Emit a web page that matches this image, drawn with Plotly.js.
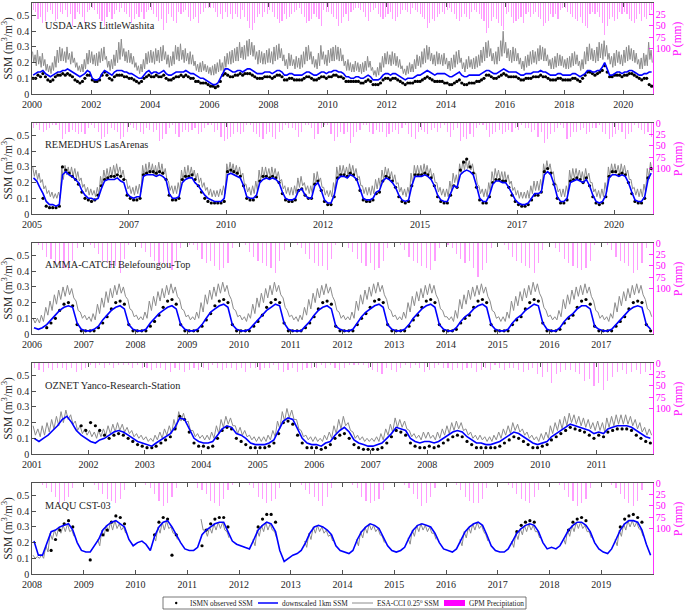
<!DOCTYPE html>
<html><head><meta charset="utf-8">
<script src="https://cdn.plot.ly/plotly-3.0.1.min.js"></script>
<style>html,body{margin:0;padding:0;background:#fff}#chart{width:685px;height:610px}</style>
</head><body><div id="chart"></div>
<script>
// ---------------- DATA ----------------
const panelNames = ['USDA-ARS LittleWashita','REMEDHUS LasArenas','AMMA-CATCH Belefoungou-Top','OZNET Yanco-Research-Station','MAQU CST-03'];
const startYears = [2000, 2005, 2006, 2001, 2008];
const endDates = ['2021-01-01','2021-01-01','2018-01-01','2012-01-01','2020-01-01'];
const tickDates1 = ['2000-01-01','2002-01-01','2004-01-01','2006-01-01','2008-01-01','2010-01-01','2012-01-01','2014-01-01','2016-01-01','2018-01-01','2020-01-01'];
const tickText1 = ['2000','2002','2004','2006','2008','2010','2012','2014','2016','2018','2020'];
const tickDates2 = ['2005-01-01','2007-07-02','2010-01-01','2012-07-02','2015-01-01','2017-07-02','2020-01-01'];
const tickText2 = ['2005','2007','2010','2012','2015','2017','2020'];
const tickDates3 = ['2006-01-01','2007-01-01','2008-01-01','2009-01-01','2010-01-01','2011-01-01','2012-01-01','2013-01-01','2014-01-01','2015-01-01','2016-01-01','2017-01-01'];
const tickText3 = ['2006','2007','2008','2009','2010','2011','2012','2013','2014','2015','2016','2017'];
const tickDates4 = ['2001-01-01','2002-01-01','2003-01-01','2004-01-01','2005-01-01','2006-01-01','2007-01-01','2008-01-01','2009-01-01','2010-01-01','2011-01-01'];
const tickText4 = ['2001','2002','2003','2004','2005','2006','2007','2008','2009','2010','2011'];
const tickDates5 = ['2008-01-01','2009-01-01','2010-01-01','2011-01-01','2012-01-01','2013-01-01','2014-01-01','2015-01-01','2016-01-01','2017-01-01','2018-01-01','2019-01-01'];
const tickText5 = ['2008','2009','2010','2011','2012','2013','2014','2015','2016','2017','2018','2019'];
const ssmTicks = [0,0.1,0.2,0.3,0.4,0.5];
const pTicks = [0,25,50,75,100];

// Panel 1: USDA-ARS LittleWashita (ESA-CCI half-monthly, others monthly)
const esa1 = [
.27,.20,.25,.18,.28,.19,.24,.17,.26,.18,.22,.15,.19,.14,.18,.13,.20,.15,.24,.17,.28,.20,.30,.21,
.29,.21,.27,.20,.30,.22,.26,.19,.27,.20,.23,.17,.20,.15,.18,.14,.19,.14,.22,.16,.26,.19,.28,.20,
.27,.19,.25,.18,.26,.18,.27,.20,.29,.21,.30,.22,.24,.17,.21,.15,.22,.16,.25,.18,.28,.20,.33,.22,
.35,.24,.29,.21,.27,.20,.28,.20,.26,.19,.24,.17,.20,.15,.18,.13,.19,.14,.22,.16,.26,.19,.27,.20,
.28,.20,.27,.19,.29,.21,.28,.20,.30,.21,.31,.22,.27,.19,.25,.17,.24,.18,.27,.19,.31,.22,.30,.21,
.32,.22,.28,.20,.29,.21,.26,.19,.27,.19,.25,.18,.21,.15,.19,.14,.20,.14,.21,.15,.19,.14,.18,.13,
.17,.12,.18,.12,.19,.13,.20,.14,.22,.15,.20,.14,.24,.17,.26,.19,.27,.19,.28,.20,.29,.21,.30,.21,
.33,.23,.30,.22,.31,.22,.34,.24,.35,.25,.33,.24,.31,.22,.27,.19,.28,.20,.27,.19,.26,.19,.28,.20,
.29,.20,.27,.19,.30,.21,.31,.22,.32,.23,.29,.21,.25,.18,.22,.16,.26,.18,.25,.18,.22,.16,.24,.17,
.23,.16,.25,.17,.27,.19,.30,.21,.31,.22,.27,.19,.24,.17,.22,.16,.26,.18,.31,.22,.27,.19,.25,.18,
.28,.20,.29,.21,.30,.21,.31,.22,.30,.21,.29,.21,.25,.18,.21,.15,.22,.15,.20,.14,.19,.14,.21,.15,
.20,.14,.19,.13,.20,.14,.21,.15,.24,.17,.21,.15,.17,.12,.15,.11,.17,.12,.20,.14,.24,.17,.26,.19,
.27,.19,.25,.18,.27,.19,.26,.18,.24,.17,.22,.16,.18,.13,.16,.12,.18,.13,.20,.14,.19,.14,.22,.16,
.25,.18,.24,.17,.27,.19,.29,.20,.31,.22,.30,.21,.26,.19,.25,.18,.27,.19,.26,.19,.25,.18,.26,.19,
.23,.16,.21,.15,.23,.16,.25,.17,.27,.19,.28,.20,.23,.16,.20,.14,.22,.16,.24,.17,.22,.16,.23,.16,
.24,.17,.25,.18,.28,.20,.30,.21,.33,.23,.34,.24,.29,.21,.26,.19,.27,.19,.30,.21,.34,.24,.40,.26,
.33,.23,.29,.21,.28,.20,.30,.21,.29,.21,.26,.19,.23,.16,.21,.15,.24,.17,.25,.18,.27,.19,.28,.20,
.27,.19,.29,.21,.31,.22,.30,.21,.29,.21,.25,.18,.22,.16,.23,.16,.24,.17,.26,.18,.25,.18,.24,.17,
.22,.16,.23,.16,.24,.17,.26,.18,.27,.19,.25,.18,.21,.15,.22,.16,.27,.19,.30,.21,.32,.22,.29,.21,
.28,.20,.30,.21,.33,.23,.32,.22,.34,.24,.31,.22,.26,.19,.24,.17,.26,.18,.28,.20,.27,.19,.25,.18,
.28,.20,.30,.21,.31,.22,.29,.21,.28,.20,.26,.19,.22,.16,.23,.16,.26,.18,.25,.18,.33,.22,.28,.20];
const down1 = [
.12,.13,.14,.14,.15,.13,.12,.11,.12,.13,.14,.14,
.15,.15,.16,.15,.14,.13,.12,.11,.12,.13,.15,.14,
.10,.09,.09,.10,.13,.15,.14,.13,.12,.14,.15,.15,
.15,.14,.14,.13,.13,.12,.11,.10,.10,.12,.14,.15,
.13,.14,.14,.13,.14,.15,.13,.12,.12,.13,.14,.14,
.14,.14,.15,.14,.13,.13,.12,.11,.10,.10,.09,.08,
.07,.06,.06,.07,.10,.13,.16,.16,.15,.14,.14,.15,
.15,.14,.15,.16,.16,.15,.14,.13,.13,.13,.14,.14,
.14,.13,.14,.15,.15,.14,.12,.12,.13,.13,.12,.12,
.12,.12,.13,.14,.14,.13,.12,.12,.13,.14,.14,.13,
.14,.14,.15,.15,.14,.14,.13,.11,.11,.10,.10,.11,
.11,.10,.10,.11,.12,.11,.09,.09,.09,.10,.12,.13,
.13,.12,.13,.13,.12,.11,.10,.09,.10,.10,.10,.11,
.12,.12,.13,.14,.15,.14,.13,.12,.13,.13,.13,.13,
.12,.11,.11,.12,.13,.14,.12,.11,.11,.12,.12,.12,
.12,.12,.13,.14,.15,.15,.14,.13,.13,.14,.15,.16,
.15,.14,.14,.14,.14,.13,.12,.12,.13,.13,.13,.14,
.14,.14,.15,.14,.14,.13,.12,.12,.12,.13,.13,.12,
.12,.12,.12,.13,.13,.12,.11,.12,.13,.15,.15,.14,
.14,.15,.15,.17,.20,.16,.12,.12,.13,.14,.14,.13,
.14,.14,.15,.15,.14,.13,.12,.12,.13,.13,.14,.14];
const ismn1 = [
.10,.10,.12,.11,.13,.11,.09,.08,.09,.11,.12,.12,
.13,.12,.13,.12,.11,.09,.08,.07,.08,.10,.12,.12,
.09,.08,.08,.09,.12,.14,.12,.10,.09,.11,.12,.12,
.12,.11,.11,.10,.10,.09,.08,.07,.08,.10,.11,.12,
.11,.11,.12,.11,.11,.12,.10,.09,.09,.10,.11,.11,
.12,.11,.12,.11,.10,.10,.08,.08,.07,.07,.07,.06,
.05,.05,.04,.05,.08,.12,.13,.12,.11,.11,.12,.12,
.13,.12,.13,.13,.13,.12,.11,.10,.10,.10,.11,.11,
.11,.10,.11,.12,.12,.11,.09,.09,.10,.10,.09,.09,
.09,.09,.10,.11,.11,.10,.09,.09,.10,.11,.11,.10,
.11,.11,.12,.12,.11,.11,.10,.08,.08,.08,.08,.08,
.08,.07,.07,.08,.09,.08,.06,.06,.06,.07,.09,.10,
.10,.09,.10,.10,.09,.08,.07,.06,.07,.07,.07,.08,
.08,.08,.09,.10,.11,.10,.09,.08,.08,.08,.08,.07,
.07,.06,.06,.07,.08,.09,.07,.06,.06,.07,.07,.07,
.08,.08,.09,.10,.12,.12,.11,.10,.10,.11,.12,.13,
.12,.11,.11,.11,.11,.10,.09,.09,.10,.10,.10,.11,
.11,.11,.12,.11,.11,.10,.09,.09,.09,.10,.10,.09,
.09,.09,.09,.10,.10,.09,.08,.10,.12,.14,.14,.13,
.12,.13,.14,.15,.18,.14,.11,.11,.12,.12,.12,.11,
.12,.12,.13,.13,.12,.11,.10,.09,.10,.10,.06,.05];
const rain1 = [
15,20,35,30,45,40,20,15,25,40,35,20, 25,15,30,25,50,35,20,25,30,45,20,15,
10,15,25,35,40,50,30,20,35,25,15,20, 10,20,25,30,45,35,25,30,20,35,20,15,
15,25,30,40,35,60,45,25,30,40,45,20, 25,20,15,30,40,35,30,45,25,20,10,10,
10,10,20,30,25,35,20,30,25,35,25,30, 35,15,30,40,55,60,45,30,25,30,20,25,
15,20,30,35,45,40,25,35,30,25,20,15, 10,25,30,45,40,35,25,30,35,50,15,20,
20,25,30,35,50,45,30,25,40,20,15,10, 10,15,20,30,40,20,15,10,25,30,35,30,
25,20,35,40,30,25,15,15,20,25,10,15, 20,25,30,35,55,45,35,40,30,25,20,25,
15,10,20,25,35,40,30,25,30,35,20,15, 20,25,35,40,65,55,40,30,35,45,50,60,
25,20,30,45,40,35,30,45,25,20,30,25, 20,30,35,50,45,40,25,30,25,35,15,10,
10,20,25,30,35,40,30,45,50,55,25,20, 25,20,30,45,70,50,35,30,40,35,20,25,
20,25,35,40,45,35,25,40,30,35,25,15];

// Panel 2: REMEDHUS LasArenas
const esa2 = [
.30,.24,.28,.22,.26,.20,.22,.16,.18,.13,.15,.11,.14,.10,.13,.10,.14,.10,.30,.22,.31,.25,.30,.24,
.30,.24,.29,.23,.27,.21,.23,.17,.19,.14,.17,.12,.16,.12,.15,.11,.17,.12,.24,.18,.28,.22,.29,.23,
.30,.24,.31,.25,.32,.26,.30,.24,.28,.22,.22,.16,.18,.13,.17,.12,.18,.13,.19,.14,.31,.24,.32,.25,
.33,.26,.32,.25,.31,.25,.33,.26,.32,.25,.29,.22,.21,.15,.18,.13,.18,.13,.20,.14,.28,.21,.30,.23,
.31,.24,.30,.24,.28,.22,.26,.20,.23,.17,.20,.15,.17,.12,.16,.11,.15,.11,.15,.11,.16,.12,.18,.13,
.32,.26,.33,.27,.32,.26,.31,.25,.30,.24,.26,.19,.19,.14,.17,.12,.18,.13,.21,.15,.28,.21,.30,.23,
.30,.24,.29,.23,.30,.24,.29,.23,.27,.21,.22,.16,.18,.13,.17,.12,.17,.12,.18,.13,.23,.17,.24,.18,
.20,.15,.18,.13,.18,.13,.26,.19,.27,.21,.23,.17,.17,.12,.15,.11,.15,.11,.20,.15,.30,.23,.31,.25,
.31,.25,.30,.24,.32,.26,.31,.25,.29,.23,.24,.18,.18,.13,.17,.12,.17,.12,.18,.13,.22,.16,.23,.17,
.28,.22,.30,.24,.29,.23,.27,.21,.25,.19,.20,.14,.17,.12,.16,.11,.17,.12,.26,.19,.31,.25,.31,.25,
.31,.25,.32,.26,.31,.25,.29,.23,.26,.20,.20,.14,.17,.12,.16,.11,.16,.11,.21,.15,.26,.20,.25,.19,
.32,.26,.34,.28,.35,.29,.34,.28,.32,.26,.26,.19,.18,.13,.16,.11,.16,.11,.20,.14,.27,.21,.29,.23,
.28,.22,.27,.21,.27,.21,.25,.19,.21,.15,.17,.12,.15,.10,.14,.10,.14,.10,.15,.10,.18,.13,.21,.15,
.21,.15,.22,.16,.32,.26,.34,.28,.32,.26,.27,.20,.19,.14,.16,.11,.16,.11,.18,.13,.28,.21,.29,.23,
.29,.23,.28,.22,.27,.21,.29,.23,.26,.20,.20,.14,.16,.11,.15,.10,.16,.11,.20,.14,.30,.24,.32,.26,
.32,.26,.31,.25,.32,.26,.31,.25,.28,.22,.22,.16,.17,.12,.16,.11,.16,.11,.19,.14,.29,.23,.33,.27];
const down2 = [
.23,.21,.17,.13,.08,.06,.06,.05,.06,.25,.27,.25,
.24,.22,.20,.15,.12,.10,.10,.09,.10,.16,.21,.22,
.22,.22,.23,.21,.20,.13,.11,.10,.11,.11,.24,.25,
.25,.25,.24,.25,.24,.22,.13,.10,.10,.11,.20,.22,
.23,.23,.20,.18,.15,.12,.10,.09,.08,.08,.08,.10,
.25,.26,.25,.24,.23,.18,.11,.10,.10,.12,.20,.22,
.23,.22,.23,.22,.20,.14,.10,.09,.09,.10,.15,.16,
.12,.10,.10,.18,.20,.15,.09,.07,.07,.12,.22,.24,
.24,.23,.25,.24,.22,.16,.10,.09,.09,.10,.14,.15,
.21,.23,.22,.20,.17,.12,.09,.08,.09,.18,.24,.24,
.24,.25,.24,.22,.18,.12,.09,.08,.08,.13,.18,.17,
.25,.27,.28,.27,.25,.18,.10,.08,.08,.12,.19,.21,
.21,.20,.20,.17,.13,.09,.07,.06,.06,.07,.10,.13,
.13,.14,.25,.27,.25,.19,.11,.08,.08,.10,.20,.21,
.22,.21,.20,.22,.18,.12,.08,.07,.08,.12,.23,.25,
.25,.24,.25,.24,.20,.14,.09,.08,.08,.11,.22,.26];
const ismn2 = [
null,null,null,.10,.05,.04,.04,.04,.05,.30,.28,.26,
.24,.22,.19,.14,.10,.09,.08,.09,.12,.18,.22,.23,
.24,.24,.25,.24,.22,.12,.10,.09,.09,.10,.25,.26,
.27,.27,.26,.27,.26,.22,.12,.09,.09,.10,.22,.24,
.24,.25,.22,.18,.14,.10,.08,.07,.07,.07,.07,.08,
.27,.28,.27,.26,.24,.18,.10,.09,.09,.11,.21,.24,
.24,.23,.24,.23,.20,.13,.09,.08,.08,.09,.15,.16,
.12,.10,.10,.19,.21,.15,.08,.06,.06,.11,.23,.25,
.25,.24,.26,.25,.22,.15,.09,.08,.08,.09,.13,.14,
.21,.24,.23,.21,.17,.11,.08,.07,.08,.18,.25,.25,
.25,.26,.25,.23,.18,.11,.08,.07,.07,.12,.18,.17,
.28,.33,.35,.30,.26,.17,.09,.07,.07,.11,.20,.22,
.22,.21,.21,.17,.12,.08,.06,.05,.05,.06,.09,.12,
.12,.14,.27,.29,.26,.19,.10,.07,.07,.09,.21,.22,
.23,.22,.20,.23,.18,.11,.07,.06,.07,.11,.24,.27,
.27,.25,.26,.25,.20,.13,.08,.07,.07,.10,.23,.29];
const rain2 = [
10,5,15,20,15,10,5,5,15,35,25,20, 15,20,25,20,25,10,5,10,20,35,30,25,
10,15,20,35,30,20,5,10,15,20,25,10, 15,20,15,40,35,25,10,5,25,30,20,15,
20,15,10,25,20,10,5,5,20,15,30,40, 35,30,25,20,25,20,5,5,20,25,30,35,
25,20,30,35,20,15,5,10,10,15,30,20, 5,5,10,35,25,10,5,5,25,40,30,20,
25,20,45,30,20,15,5,5,20,25,15,20, 20,30,25,20,15,25,10,5,25,30,35,20,
15,20,25,15,10,20,10,5,20,30,15,10, 40,30,35,25,30,10,5,5,15,30,25,20,
15,25,20,15,20,10,15,5,10,10,20,15, 30,20,45,35,25,20,10,5,10,35,30,20,
20,15,10,25,20,10,10,5,20,25,35,30, 25,15,20,35,25,20,5,10,15,25,20,30];

// Panel 3: AMMA-CATCH Belefoungou-Top
const esa3 = [
.10,.07,.10,.07,.12,.08,.17,.12,.21,.15,.25,.19,.28,.22,.30,.24,.31,.25,.29,.23,.21,.15,.14,.10,
.12,.09,.11,.08,.13,.09,.19,.13,.23,.17,.27,.20,.29,.23,.31,.25,.32,.26,.30,.24,.22,.16,.15,.11,
.12,.09,.11,.09,.14,.10,.21,.15,.24,.18,.27,.21,.29,.23,.31,.25,.32,.26,.30,.24,.22,.16,.15,.11,
.12,.09,.11,.09,.14,.10,.20,.14,.25,.19,.28,.22,.30,.24,.32,.26,.33,.27,.31,.25,.22,.16,.15,.11,
.12,.09,.11,.08,.13,.10,.19,.13,.23,.17,.26,.20,.29,.23,.31,.25,.33,.27,.31,.25,.23,.17,.15,.11,
.12,.09,.11,.08,.12,.09,.17,.12,.22,.16,.26,.20,.29,.23,.31,.25,.32,.26,.30,.24,.21,.15,.14,.10,
.12,.09,.11,.09,.14,.10,.21,.15,.25,.19,.28,.22,.30,.24,.32,.26,.33,.27,.31,.25,.22,.16,.15,.11,
.12,.09,.11,.09,.14,.10,.20,.14,.24,.18,.27,.21,.29,.23,.31,.25,.32,.26,.31,.25,.22,.16,.15,.11,
.11,.09,.11,.08,.15,.10,.22,.16,.25,.19,.28,.22,.30,.24,.31,.25,.32,.26,.30,.24,.21,.15,.14,.10,
.11,.08,.11,.08,.14,.10,.21,.15,.24,.18,.27,.21,.29,.23,.31,.25,.33,.27,.32,.26,.23,.17,.15,.11,
.12,.09,.11,.09,.15,.11,.22,.16,.25,.19,.28,.22,.30,.24,.31,.25,.32,.26,.30,.24,.21,.15,.14,.10,
.12,.09,.11,.08,.13,.10,.20,.14,.24,.18,.27,.21,.29,.23,.31,.25,.32,.26,.31,.25,.22,.16,.15,.11];
const down3 = [
.04,.03,.04,.06,.09,.12,.15,.17,.18,.17,.07,.03,
.02,.02,.03,.05,.09,.12,.15,.17,.18,.16,.06,.03,
.02,.02,.03,.07,.10,.13,.15,.17,.18,.16,.06,.03,
.02,.02,.03,.06,.10,.14,.16,.18,.19,.17,.06,.03,
.02,.02,.03,.06,.09,.12,.15,.17,.19,.18,.07,.03,
.02,.02,.02,.05,.08,.12,.15,.17,.18,.16,.05,.03,
.02,.02,.03,.07,.11,.14,.16,.18,.19,.17,.06,.03,
.02,.02,.03,.06,.10,.13,.16,.18,.19,.17,.06,.03,
.02,.02,.04,.08,.11,.13,.16,.18,.19,.17,.06,.03,
.02,.02,.03,.07,.10,.12,.15,.17,.19,.18,.07,.03,
.02,.02,.04,.08,.11,.13,.16,.18,.18,.16,.05,.03,
.02,.02,.03,.06,.09,.12,.15,.17,.18,.17,.06,.03];
const ismn3 = [
null,null,null,.04,.07,.10,.15,.19,.20,.18,.06,.02,
.02,.02,.02,.04,.07,.11,.16,.20,.21,.19,.06,.02,
.02,.02,.02,.05,.08,.12,.17,.21,.22,.19,.06,.02,
.02,.02,.02,.05,.09,.13,.18,.21,.22,.20,.06,.02,
.02,.02,.02,.05,.08,.12,.17,.20,.22,.20,.07,.02,
.02,.02,.02,.04,.07,.11,.16,.20,.21,.19,.05,.02,
.02,.02,.02,.06,.10,.13,.17,.21,.22,.20,.06,.02,
.02,.02,.02,.05,.09,.12,.17,.21,.22,.20,.06,.02,
.02,.02,.03,.07,.10,.12,.17,.21,.22,.20,.06,.02,
.02,.02,.02,.06,.09,.11,.16,.20,.22,.21,.07,.02,
.02,.02,.03,.07,.10,.12,.17,.21,.22,.19,.05,.02,
.02,.02,.02,.05,.08,.11,.16,.20,.21,.20,.06,.02];
const rain3 = [
0,5,15,30,35,45,50,55,60,40,10,0, 0,5,10,25,40,45,55,50,65,35,5,0,
0,10,20,30,40,50,45,55,60,40,10,0, 5,5,15,35,45,40,50,60,55,45,10,0,
0,5,20,30,40,45,50,55,65,40,15,0, 0,5,10,25,35,45,50,50,60,35,5,0,
0,10,20,35,45,50,45,60,55,40,10,0, 0,5,15,30,40,45,50,55,60,40,10,0,
5,10,25,35,45,40,55,75,60,45,10,0, 0,5,15,30,40,45,50,55,65,45,15,0,
0,10,20,35,45,50,55,60,55,40,5,0, 0,5,15,30,40,45,50,65,60,45,10,0];

// Panel 4: OZNET Yanco-Research-Station
const esa4 = [
.18,.12,.16,.11,.18,.12,.20,.14,.22,.16,.24,.18,.27,.20,.28,.22,.25,.19,.21,.15,.18,.13,.16,.12,
.15,.11,.14,.10,.15,.11,.16,.12,.18,.13,.19,.14,.20,.15,.19,.14,.17,.13,.15,.11,.13,.10,.12,.09,
.11,.08,.10,.08,.12,.09,.14,.10,.16,.12,.18,.13,.22,.16,.27,.21,.26,.20,.21,.15,.15,.11,.13,.10,
.12,.09,.12,.09,.14,.10,.18,.13,.22,.17,.24,.19,.23,.18,.18,.13,.17,.12,.15,.11,.12,.09,.11,.08,
.11,.08,.11,.08,.12,.09,.15,.11,.21,.16,.27,.21,.29,.23,.28,.22,.22,.16,.15,.11,.12,.09,.11,.08,
.11,.08,.10,.08,.12,.09,.14,.10,.18,.13,.22,.16,.24,.18,.20,.15,.14,.10,.12,.09,.11,.08,.10,.08,
.10,.08,.11,.08,.13,.09,.16,.12,.19,.14,.23,.17,.22,.17,.21,.16,.15,.11,.13,.10,.12,.09,.14,.10,
.14,.10,.12,.09,.14,.10,.16,.12,.18,.13,.20,.15,.21,.16,.20,.15,.16,.12,.14,.10,.12,.09,.12,.09,
.11,.08,.11,.08,.12,.09,.14,.10,.16,.12,.18,.13,.20,.15,.19,.14,.16,.12,.14,.10,.12,.09,.11,.08,
.13,.09,.14,.10,.18,.13,.20,.15,.22,.16,.24,.18,.26,.20,.25,.19,.24,.18,.23,.17,.22,.16,.20,.15,
.21,.15,.20,.14,.23,.17,.24,.18,.25,.19,.25,.19,.25,.19,.24,.18,.22,.16,.20,.14,.17,.12,.16,.12];
const down4 = [
.10,.08,.10,.12,.15,.18,.22,.24,.20,.15,.12,.10,
.08,.07,.09,.10,.12,.14,.15,.14,.12,.10,.08,.07,
.06,.05,.07,.09,.11,.13,.17,.23,.22,.16,.10,.08,
.07,.07,.08,.12,.16,.18,.17,.13,.12,.10,.07,.06,
.06,.06,.07,.09,.15,.21,.23,.22,.16,.10,.07,.06,
.06,.05,.07,.08,.12,.15,.17,.14,.09,.07,.06,.05,
.05,.06,.07,.10,.13,.17,.16,.15,.10,.08,.07,.08,
.08,.07,.08,.10,.12,.14,.15,.14,.11,.09,.07,.07,
.06,.06,.07,.08,.10,.12,.14,.13,.11,.09,.07,.06,
.07,.08,.11,.13,.15,.17,.19,.18,.17,.16,.15,.13,
.14,.13,.16,.17,.18,.18,.18,.17,.15,.13,.11,.10];
const ismn4 = [
null,null,null,null,null,null,null,null,null,null,.18,.15,
.20,.18,.15,.12,.10,.12,.13,.12,.10,.08,.06,.05,
.04,.04,.05,.07,.09,.11,.16,.24,.22,.14,.07,.05,
.05,.04,.05,.10,.15,.17,.16,.10,.08,.06,.04,.04,
.04,.04,.05,.07,.13,.20,.21,.19,.12,.07,.04,.04,
.04,.03,.04,.06,.10,.12,.13,.10,.06,.04,.03,.03,
.03,.03,.04,.07,.11,.15,.14,.12,.07,.05,.04,.04,
.05,.04,.05,.07,.09,.11,.12,.11,.08,.06,.04,.04,
.04,.04,.04,.05,.07,.09,.11,.10,.08,.06,.04,.04,
.05,.06,.09,.11,.13,.15,.17,.16,.15,.14,.12,.10,
.12,.11,.14,.15,.16,.16,.16,.15,.12,.10,.08,.07];
const rain4 = [
10,15,20,10,15,10,10,15,10,20,15,10, 5,10,5,10,5,10,5,5,5,10,5,10,
10,15,10,10,15,20,10,15,20,15,10,15, 10,15,5,10,15,10,10,15,10,20,10,10,
15,10,10,5,15,20,15,10,20,15,10,10, 10,5,10,5,10,15,10,5,5,5,5,10,
15,20,25,10,15,20,10,5,10,5,10,20, 15,10,5,10,10,15,10,15,10,10,20,15,
10,15,5,10,15,10,10,15,20,15,10,25, 30,20,45,25,20,15,15,20,25,40,35,50,
45,60,40,30,20,15,25,20,15,25,20,15];

// Panel 5: MAQU CST-03
const esa5 = [
.12,.10,.11,.10,.12,.10,.18,.14,.26,.22,.28,.24,.30,.26,.31,.27,.32,.27,.28,.24,null,null,null,null,
null,null,null,null,null,null,.22,.18,.28,.24,.31,.27,.33,.28,.34,.29,.32,.28,.30,.26,null,null,null,null,
null,null,null,null,null,null,null,null,.25,.21,.30,.26,.33,.28,.34,.29,.30,.26,.26,.22,null,null,null,null,
null,null,null,null,null,null,.35,.28,.28,.24,.30,.26,.32,.28,.33,.29,.33,.28,.27,.23,null,null,null,null,
null,null,null,null,null,null,.22,.18,.28,.24,.31,.27,.33,.28,.32,.28,.27,.23,null,null,null,null,null,null,
null,null,null,null,null,null,.21,.17,.26,.22,.30,.26,.31,.27,.30,.26,.28,.24,.25,.21,null,null,null,null,
null,null,null,null,null,null,.22,.18,.27,.23,.30,.26,.32,.28,.31,.27,.29,.25,.24,.20,null,null,null,null,
null,null,null,null,null,null,.23,.19,.28,.24,.31,.27,.32,.28,.31,.27,.30,.26,.26,.22,null,null,null,null,
null,null,null,null,null,null,.22,.18,.27,.23,.30,.26,.32,.28,.33,.29,.31,.27,.25,.21,null,null,null,null,
null,null,null,null,null,null,.21,.17,.26,.22,.29,.25,.31,.27,.32,.28,.31,.27,.27,.23,null,null,null,null,
null,null,null,null,null,null,.23,.19,.28,.24,.31,.27,.33,.29,.33,.29,.31,.27,.27,.23,null,null,null,null,
null,null,null,null,null,null,.22,.18,.28,.24,.32,.28,.34,.30,.34,.30,.33,.29,.28,.24,null,null,null,null];
const down5 = [
.21,.12,.12,.20,.27,.28,.30,.31,.32,.28,.20,.15,
.14,.14,.18,.22,.28,.31,.33,.34,.32,.30,.22,.18,
.20,.21,.19,.15,.24,.30,.33,.34,.30,.25,.20,.16,
.15,.15,.17,.25,.28,.30,.32,.33,.33,.27,.21,.19,
.18,.17,.16,.22,.28,.31,.33,.32,.27,.15,.08,.10,
.12,.13,.15,.20,.26,.30,.31,.30,.28,.25,.18,.15,
.14,.13,.15,.22,.27,.30,.32,.31,.29,.24,.18,.15,
.14,.15,.17,.23,.28,.31,.32,.31,.30,.26,.20,.16,
.15,.14,.16,.22,.27,.30,.32,.33,.31,.25,.18,.15,
.14,.14,.16,.21,.26,.29,.31,.32,.31,.27,.20,.16,
.17,.16,.18,.23,.28,.31,.33,.33,.31,.27,.20,.16,
.14,.13,.16,.22,.28,.32,.34,.34,.33,.28,.19,.12];
const ismn5 = [
null,null,null,null,.15,.22,.28,.32,.34,.30,null,null,
null,.09,null,null,.25,.28,.33,.37,.36,.32,null,null,
null,null,null,null,.25,.33,.36,.35,.12,.25,null,null,
null,null,null,.18,.28,.32,.35,.36,.36,.30,null,null,
null,null,null,null,.30,.35,.38,.38,.33,null,null,null,
null,null,null,null,null,null,null,null,null,null,null,null,
null,null,null,null,null,null,null,null,null,null,null,null,
null,null,null,null,null,null,null,null,null,null,null,null,
null,null,null,null,null,null,null,null,null,null,null,null,
null,null,null,null,.27,.31,.33,.34,.33,null,null,null,
null,null,null,null,.28,.33,.35,.36,.34,null,null,null,
null,null,null,null,.30,.35,.37,.38,.36,.33,null,null];
const rain5 = [
0,0,5,10,20,30,45,40,30,10,0,0, 0,0,5,15,25,35,40,45,35,15,0,0,
0,0,5,10,25,40,50,45,30,10,0,0, 0,0,10,15,25,40,45,50,35,15,5,0,
0,0,5,10,30,35,45,40,35,10,0,0, 0,0,5,15,25,30,40,50,30,10,0,0,
0,0,5,10,30,40,45,40,35,15,0,0, 0,0,5,10,25,35,50,45,30,10,0,0,
0,0,5,15,30,40,45,45,35,10,0,0, 0,0,5,10,25,35,40,45,30,15,0,0,
0,0,5,15,30,40,50,45,35,10,0,0, 0,0,5,10,25,35,45,50,40,15,0,0];

const esaAll = [esa1, esa2, esa3, esa4, esa5];
const downAll = [down1, down2, down3, down4, down5];
const ismnAll = [ismn1, ismn2, ismn3, ismn4, ismn5];
const rainAll = [rain1, rain2, rain3, rain4, rain5];
const tickDatesAll = [tickDates1, tickDates2, tickDates3, tickDates4, tickDates5];
const tickTextAll = [tickText1, tickText2, tickText3, tickText4, tickText5];

// ---------------- BUILD ----------------
const pad = n => String(n).padStart(2, '0');
function monthDates(y0, n) { const out = []; for (let i = 0; i < n; i++) out.push((y0 + Math.floor(i / 12)) + '-' + pad(i % 12 + 1) + '-15'); return out; }
function halfMonthDates(y0, n) { const out = []; for (let i = 0; i < n; i++) { const k = Math.floor(i / 2); out.push((y0 + Math.floor(k / 12)) + '-' + pad(k % 12 + 1) + (i % 2 ? '-23' : '-08')); } return out; }

const W = 685, H = 610;
const xL = 32, xR = 653;
const panelTop = [3, 123, 243, 363, 483];
const panelH = 91;
const FONT = 'Liberation Serif, Times New Roman, serif';
const AX = '#262626';
const MAG = '#ff00ff';

const traces = [];
const layout = {
  width: W, height: H, margin: {l: 0, r: 0, t: 0, b: 0},
  paper_bgcolor: '#fff', plot_bgcolor: 'rgba(0,0,0,0)', showlegend: false,
  font: {family: FONT, color: AX, size: 10}, bargap: 0,
  annotations: [], shapes: []
};

for (let p = 0; p < 5; p++) {
  const i = p + 1;
  const xa = 'x' + (i === 1 ? '' : i), yl = 'y' + (i === 1 ? '' : i), yr = 'y' + (i + 5);
  const y0 = startYears[p];
  const yTop = 1 - panelTop[p] / H, yBot = 1 - (panelTop[p] + panelH) / H;
  // bar width ~1.1 px on this panel's time scale
  const spanMs = new Date(endDates[p]) - new Date(y0 + '-01-01');
  const barW = spanMs * 1.1 / (xR - xL);

  traces.push({type: 'bar', x: monthDates(y0, rainAll[p].length), y: rainAll[p], xaxis: xa, yaxis: yr,
    width: barW, marker: {color: 'rgba(255,60,255,0.5)', line: {width: 0}}, hoverinfo: 'skip'});
  traces.push({type: 'scatter', mode: 'lines', x: halfMonthDates(y0, esaAll[p].length), y: esaAll[p], xaxis: xa, yaxis: yl,
    line: {color: '#8c8c8c', width: 1}, connectgaps: false});
  traces.push({type: 'scatter', mode: 'markers', x: monthDates(y0, ismnAll[p].length), y: ismnAll[p], xaxis: xa, yaxis: yl,
    marker: {color: '#000', size: 3.2}});
  traces.push({type: 'scatter', mode: 'lines', x: monthDates(y0, downAll[p].length), y: downAll[p], xaxis: xa, yaxis: yl,
    line: {color: '#0000ff', width: 1.6}});

  layout['xaxis' + (i === 1 ? '' : i)] = {
    domain: [xL / W, xR / W], anchor: yl, type: 'date',
    range: [y0 + '-01-01', endDates[p]],
    tickmode: 'array', tickvals: tickDatesAll[p], ticktext: tickTextAll[p],
    ticks: 'inside', ticklen: 4, tickcolor: AX, tickwidth: 0.8,
    showline: true, linecolor: AX, linewidth: 0.8, mirror: 'ticks',
    showgrid: false, zeroline: false, ticklabelstandoff: 1,
    tickfont: {family: FONT, size: 10, color: AX}
  };
  layout['yaxis' + (i === 1 ? '' : i)] = {
    domain: [yBot, yTop], anchor: xa, range: [0, 0.58],
    tickmode: 'array', tickvals: ssmTicks, ticktext: ssmTicks.map(String),
    ticks: 'inside', ticklen: 4, tickcolor: AX, tickwidth: 0.8,
    showline: true, linecolor: AX, linewidth: 0.8,
    showgrid: false, zeroline: false,
    tickfont: {family: FONT, size: 10, color: AX},
    title: {text: 'SSM (m<sup>3</sup>/m<sup>3</sup>)', font: {family: FONT, size: 11.5, color: AX}, standoff: 5}
  };
  layout['yaxis' + (i + 5)] = {
    overlaying: yl, side: 'right', anchor: xa, range: [200, 0],
    tickmode: 'array', tickvals: pTicks, ticktext: pTicks.map(String),
    ticks: 'inside', ticklen: 4, tickcolor: MAG, tickwidth: 0.8,
    showline: true, linecolor: MAG, linewidth: 0.8,
    showgrid: false, zeroline: false,
    tickfont: {family: FONT, size: 10, color: MAG}
  };
  layout.annotations.push({xref: 'paper', yref: 'paper', x: 43 / W, y: 1 - (panelTop[p] + 22) / H,
    xanchor: 'left', yanchor: 'middle', showarrow: false, text: panelNames[p],
    font: {family: FONT, size: 10.3, color: AX}});
  layout.annotations.push({xref: 'paper', yref: 'paper', x: 678 / W, y: 1 - (panelTop[p] + 36) / H,
    xanchor: 'center', yanchor: 'middle', showarrow: false, text: 'P (mm)', textangle: -90,
    font: {family: FONT, size: 11.5, color: MAG}});
}

// ---------------- LEGEND (drawn as a box) ----------------
const py = v => 1 - v / H, pxx = v => v / W;
const legY = 603;
layout.shapes.push({type: 'rect', xref: 'paper', yref: 'paper', x0: pxx(163), x1: pxx(526), y0: py(609), y1: py(597),
  line: {color: '#555', width: 0.8}, fillcolor: '#fff'});
layout.shapes.push({type: 'circle', xref: 'paper', yref: 'paper', x0: pxx(175), x1: pxx(177.4), y0: py(604.2), y1: py(601.8),
  line: {width: 0}, fillcolor: '#000'});
layout.shapes.push({type: 'line', xref: 'paper', yref: 'paper', x0: pxx(258), x1: pxx(278), y0: py(legY), y1: py(legY),
  line: {color: '#0000ff', width: 1.5}});
layout.shapes.push({type: 'line', xref: 'paper', yref: 'paper', x0: pxx(352), x1: pxx(373), y0: py(legY), y1: py(legY),
  line: {color: '#8c8c8c', width: 1}});
layout.shapes.push({type: 'rect', xref: 'paper', yref: 'paper', x0: pxx(444), x1: pxx(465), y0: py(606), y1: py(600),
  line: {width: 0}, fillcolor: MAG});
const legItems = [['ISMN observed SSM', 188], ['downscaled 1km SSM', 280], ['ESA-CCI 0.25<sup>o</sup> SSM', 375], ['GPM Precipitation', 467]];
legItems.forEach(([t, x]) => layout.annotations.push({xref: 'paper', yref: 'paper', x: pxx(x), y: py(legY),
  xanchor: 'left', yanchor: 'middle', showarrow: false, text: t, font: {family: FONT, size: 7.3, color: '#222'}}));

Plotly.newPlot('chart', traces, layout, {displayModeBar: false, staticPlot: true});
</script></body></html>
